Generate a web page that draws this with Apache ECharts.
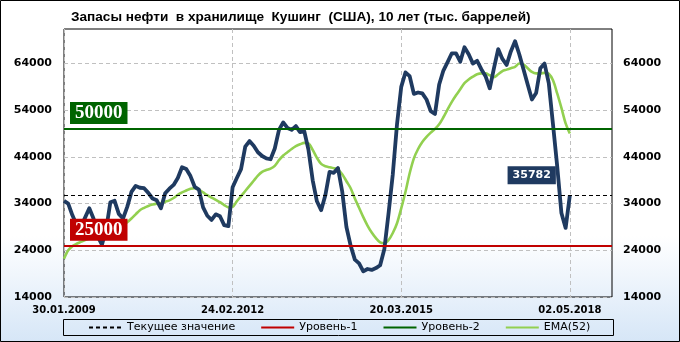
<!DOCTYPE html>
<html>
<head>
<meta charset="utf-8">
<script src="https://cdn.jsdelivr.net/npm/echarts@6/dist/echarts.min.js"></script>
<style>html,body{margin:0;padding:0;background:#fff}#c{width:680px;height:342px}</style>
</head>
<body>
<div id="c"></div>
<script>
// ---- data ----
const titleText = 'Запасы нефти  в хранилище  Кушинг  (США), 10 лет (тыс. баррелей)';
const startDate = Date.UTC(2009, 0, 30);   // first category date
const stepDays = 28;                        // 4-week sampling
const lastDateLabel = '02.05.2018';         // last reported date
const totalSlots = 131;                     // axis length incl. empty space on the right
const labelEvery = 40;

const stocks = [
34600,34000,31500,29400,29000,31000,33000,30800,27000,25200,
28500,34300,34600,31800,30800,33300,36500,37800,37400,37300,
36300,35100,34700,33000,36200,37200,38000,39500,41800,41400,
39900,37600,37000,33200,31400,30500,31700,31300,29400,29200,
37500,39500,41400,46200,47400,46400,45000,44200,43700,43500,
45800,49800,51400,50200,49800,50600,49300,49500,45500,39000,
34500,32600,35800,40800,40600,41600,36600,29000,25000,22000,
21200,19500,20000,19800,20200,20800,24300,32000,40300,51000,
59000,62100,61300,57500,57800,57600,56300,53800,53200,59500,
62500,64300,66200,66200,64400,67500,66000,64000,64600,62800,
61300,58700,63000,67100,65000,63700,66600,68800,66000,62800,
59500,56300,57700,63000,64000,59800,51000,42000,32000,28800,
35782];

const ema52 = [
22200,24000,24900,25400,25800,26200,26500,26800,27100,27500,
27900,28200,28500,28900,29400,30000,30800,31700,32600,33100,
33500,33800,34000,34100,34400,34700,35200,35900,36400,36800,
37200,37300,37000,36400,35800,35300,34800,34300,33700,33200,
33300,34500,35600,36700,37800,38900,40000,40800,41200,41500,
42100,43300,44300,45000,45700,46300,46700,47000,46900,45500,
43800,42500,42000,41800,41600,41300,40300,38800,37300,35100,
33100,31100,29300,27800,26600,25700,25500,26200,27700,29800,
33000,36500,40500,43700,45700,47200,48300,49200,50000,51000,
52500,54200,55800,57200,58500,59800,60600,61200,61700,61900,
61900,61500,61100,61700,62400,62700,63000,63300,64000,63800,
63000,62200,61900,61900,62000,61800,60400,57600,54500,51200,
49000];

const currentValue = 35782;
const level1 = 25000;
const level2 = 50000;
const yMin = 14000, yMax = 71400;
const yTicks = [14000, 24000, 34000, 44000, 54000, 64000];
const seriesNames = ['Текущее значение', 'Уровень-1', 'Уровень-2', 'EMA(52)'];

// ---- categories ----
function fmt(ms) {
  const d = new Date(ms);
  const p = n => String(n).padStart(2, '0');
  return p(d.getUTCDate()) + '.' + p(d.getUTCMonth() + 1) + '.' + d.getUTCFullYear();
}
const lastIdx = stocks.length - 1;
const categories = [];
for (let i = 0; i < totalSlots; i++) {
  categories.push(i === lastIdx ? lastDateLabel : fmt(startDate + i * stepDays * 86400000));
}
const showIdx = (i) => i % labelEvery === 0 && i <= lastIdx;

const chart = echarts.init(document.getElementById('c'), null, {renderer: 'canvas'});
const axisFont = {fontFamily: 'DejaVu Sans', fontWeight: 'bold', fontSize: 11, color: '#000', formatter: v => String(v)};

chart.setOption({
  animation: false,
  backgroundColor: new echarts.graphic.LinearGradient(0, 0, 0, 1, [
    {offset: 0, color: '#ffffff'},
    {offset: 0.69, color: '#ffffff'},
    {offset: 1, color: '#d6e6f7'}
  ]),
  title: {
    text: titleText, left: 66, top: 5,
    textStyle: {fontFamily: 'Liberation Sans', fontWeight: 'bold', fontSize: 13.6, color: '#000'}
  },
  grid: {left: 64, right: 68, top: 29, bottom: 45, show: true, borderColor: '#000', borderWidth: 1, backgroundColor: 'transparent'},
  legend: {
    data: seriesNames, left: 88, top: 322, padding: 0, itemWidth: 33, itemHeight: 14, itemGap: 25,
    itemStyle: {opacity: 0, borderWidth: 0},
    textStyle: {fontFamily: 'DejaVu Sans', fontSize: 11, color: '#000'}
  },
  graphic: [
    {type: 'rect', shape: {x: 0.5, y: 0.5, width: 679, height: 341}, style: {fill: 'none', stroke: '#000', lineWidth: 1}, silent: true},
    {type: 'rect', shape: {x: 63.5, y: 319.5, width: 550, height: 16}, style: {fill: 'none', stroke: '#000', lineWidth: 1}, silent: true}
  ],
  xAxis: {
    type: 'category', data: categories, boundaryGap: false,
    axisLine: {show: false}, axisTick: {show: false},
    axisLabel: {interval: showIdx, margin: 8, hideOverlap: false, fontFamily: 'DejaVu Sans', fontWeight: 'bold', fontSize: 10, color: '#000'},
    splitLine: {show: true, interval: showIdx, lineStyle: {color: '#c0c0c0', type: [4, 3], width: 1}}
  },
  yAxis: [
    {type: 'value', position: 'left', min: yMin, max: yMax,
     axisLine: {show: false}, axisTick: {show: false, customValues: yTicks},
     axisLabel: Object.assign({customValues: yTicks, margin: 12}, axisFont),
     splitLine: {show: true, lineStyle: {color: '#c0c0c0', type: [4, 3], width: 1}}},
    {type: 'value', position: 'right', min: yMin, max: yMax,
     axisLine: {show: false}, axisTick: {show: false, customValues: yTicks},
     axisLabel: Object.assign({customValues: yTicks, margin: 11}, axisFont),
     splitLine: {show: false}}
  ],
  series: [
    {
      name: 'Запасы', type: 'line', data: stocks, showSymbol: false, symbol: 'none', z: 3,
      lineStyle: {color: '#1f3a60', width: 3.8, join: 'round'},
      markPoint: {
        symbol: 'circle', symbolSize: 0,
        data: [{coord: [lastIdx, currentValue], value: currentValue}],
        label: {show: true, position: 'left', distance: 14, offset: [0, -20],
                formatter: String(currentValue), backgroundColor: '#1f3a60', color: '#fff',
                padding: [4, 5, 3, 5], fontFamily: 'DejaVu Sans', fontWeight: 'bold', fontSize: 11}
      }
    },
    {
      name: 'EMA(52)', type: 'line', data: ema52, showSymbol: false, symbol: 'none', z: 2, smooth: 0.3,
      lineStyle: {color: '#92d050', width: 2.6}, itemStyle: {color: '#92d050'}
    },
    {
      name: 'Текущее значение', type: 'line', data: [], symbol: 'none', z: 4,
      lineStyle: {color: '#000', width: 1, type: [4, 3]}, itemStyle: {color: '#000'},
      markLine: {silent: true, symbol: 'none', label: {show: false},
        lineStyle: {color: '#000', width: 1, type: [4, 3]},
        data: [{yAxis: currentValue}]}
    },
    {
      name: 'Уровень-1', type: 'line', data: [], symbol: 'none', z: 5,
      lineStyle: {color: '#c00000', width: 2}, itemStyle: {color: '#c00000'},
      markLine: {silent: true, symbol: 'none',
        lineStyle: {color: '#c00000', width: 2, type: 'solid'},
        label: {show: true, position: 'insideStartTop', distance: [6, 5], formatter: String(level1),
                backgroundColor: '#c00000', color: '#fff', padding: [2, 5, 1, 5],
                fontFamily: 'Liberation Serif', fontWeight: 'bold', fontSize: 19},
        data: [{yAxis: level1}]}
    },
    {
      name: 'Уровень-2', type: 'line', data: [], symbol: 'none', z: 5,
      lineStyle: {color: '#006400', width: 2}, itemStyle: {color: '#006400'},
      markLine: {silent: true, symbol: 'none',
        lineStyle: {color: '#006400', width: 2, type: 'solid'},
        label: {show: true, position: 'insideStartTop', distance: [6, 5], formatter: String(level2),
                backgroundColor: '#006400', color: '#fff', padding: [2, 5, 1, 5],
                fontFamily: 'Liberation Serif', fontWeight: 'bold', fontSize: 19},
        data: [{yAxis: level2}]}
    }
  ]
});
</script>
</body>
</html>
